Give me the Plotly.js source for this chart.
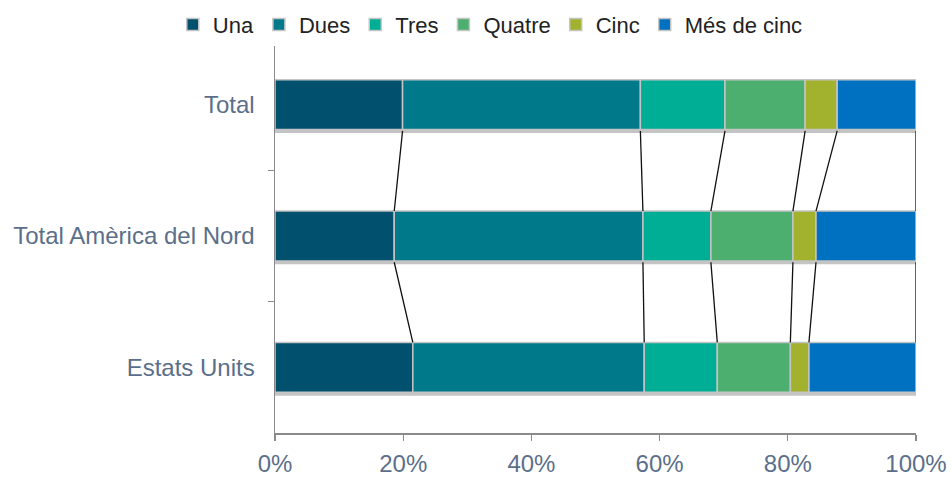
<!DOCTYPE html>
<html><head><meta charset="utf-8">
<script src="https://cdn.plot.ly/plotly-3.0.1.min.js"></script>
<style>html,body{margin:0;padding:0;background:#fff}#chart{width:952px;height:477px}</style>
</head><body><div id="chart"></div>
<script>
const categories = ['Total', 'Total Amèrica del Nord', 'Estats Units'];
const seriesNames = ['Una', 'Dues', 'Tres', 'Quatre', 'Cinc', 'Més de cinc'];
const una    = [19.9, 18.6, 21.5];
const dues   = [37.1, 38.8, 36.1];
const tres   = [13.2, 10.6, 11.4];
const quatre = [12.5, 12.8, 11.4];
const cinc   = [5.0, 3.6, 2.9];
const mes    = [12.3, 15.6, 16.7];
const xTickVals = [0, 20, 40, 60, 80, 100];

const colors = ['#00506e', '#007a8a', '#00ae96', '#4caf70', '#a2b22e', '#0070c0'];
const series = [una, dues, tres, quatre, cinc, mes];
const barWidth = 0.38;

// cumulative sums per category (derived from the arrays above)
const cum = categories.map((c, i) => {
  let s = 0; return series.map(v => (s += v[i]));
});
const totals = cum.map(r => r[r.length - 1]);

const traces = [];
// soft drop shadow behind each bar
traces.push({
  type: 'bar', orientation: 'h', y: categories, x: totals.map(t => t + 0.4), base: 0,
  width: barWidth, offset: -barWidth / 2 + 0.026,
  marker: {color: 'rgba(70,70,70,0.32)', line: {width: 0}},
  showlegend: false, hoverinfo: 'skip'
});
series.forEach((vals, k) => {
  traces.push({
    type: 'bar', orientation: 'h', name: seriesNames[k],
    y: categories, x: vals, base: categories.map((c, i) => (k === 0 ? 0 : cum[i][k - 1])),
    width: barWidth,
    marker: {color: colors[k], line: {color: '#c4c4c4', width: 1.5}},
    hoverinfo: 'skip'
  });
});

// connector (series) lines between consecutive bars
const lx = [], ly = [];
for (let i = 0; i < categories.length - 1; i++) {
  for (let k = 0; k < series.length; k++) {
    lx.push(cum[i][k], cum[i + 1][k], null);
    ly.push(i + barWidth / 2 + 0.01, i + 1 - barWidth / 2, null);
  }
}
traces.push({
  type: 'scatter', mode: 'lines', x: lx, y: ly, yaxis: 'y2',
  line: {color: '#111111', width: 1.3}, showlegend: false, hoverinfo: 'skip', connectgaps: false
});

const layout = {
  width: 952, height: 477,
  margin: {l: 275, r: 36, t: 39, b: 44, autoexpand: false},
  paper_bgcolor: '#ffffff', plot_bgcolor: '#ffffff',
  font: {family: 'Liberation Sans, Arial, sans-serif', color: '#5b6f8a'},
  barmode: 'overlay',
  showlegend: true,
  legend: {
    orientation: 'h', xref: 'container', yref: 'container',
    x: 0.515, xanchor: 'center', y: 0.992, yanchor: 'top',
    font: {size: 22, color: '#222222'}, itemwidth: 30,
    traceorder: 'normal'
  },
  xaxis: {
    range: [0, 100], tickvals: xTickVals, ticktext: xTickVals.map(v => v + '%'),
    showgrid: false, zeroline: false, showline: true, linecolor: '#8a8a8a', linewidth: 1.5,
    ticks: 'outside', ticklen: 6, tickcolor: '#8a8a8a', tickwidth: 1.3,
    tickfont: {size: 24, color: '#5b6f8a'}, ticklabelstandoff: 3, automargin: false
  },
  yaxis: {
    type: 'category', categoryorder: 'array', categoryarray: categories,
    range: [2.5, -0.5], tickson: 'boundaries',
    showgrid: false, zeroline: false, showline: true, linecolor: '#8a8a8a', linewidth: 1.5,
    ticks: 'outside', ticklen: 6, tickcolor: '#8a8a8a', tickwidth: 1.3,
    tickfont: {size: 24, color: '#5b6f8a'}, ticklabelstandoff: 14, automargin: false
  },
  yaxis2: {
    overlaying: 'y', range: [2.5, -0.5], visible: false, showgrid: false, zeroline: false
  }
};

Plotly.newPlot('chart', traces, layout, {staticPlot: true, displayModeBar: false});
</script></body></html>
